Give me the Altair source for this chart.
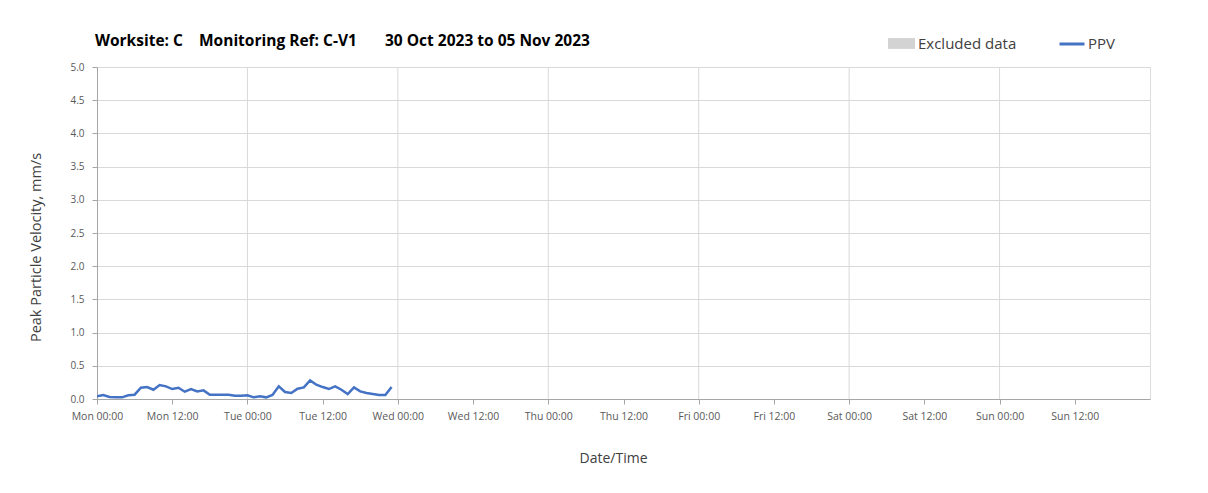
import altair as alt
import pandas as pd

# PPV readings, hourly from Mon 30 Oct 2023 00:00 (mm/s)
ppv = [0.04, 0.06, 0.03, 0.025, 0.025, 0.055, 0.065, 0.17, 0.18, 0.14,
       0.21, 0.19, 0.15, 0.17, 0.11, 0.15, 0.115, 0.13, 0.065, 0.065,
       0.065, 0.065, 0.05, 0.05, 0.055, 0.025, 0.04, 0.025, 0.06, 0.19,
       0.105, 0.09, 0.155, 0.175, 0.28, 0.215, 0.18, 0.15, 0.19, 0.14,
       0.075, 0.175, 0.115, 0.09, 0.075, 0.06, 0.06, 0.18]
times = [t.strftime("%Y-%m-%dT%H:%M:%SZ")
         for t in pd.date_range("2023-10-30 00:00", periods=len(ppv), freq="h")]

day_lines = ["2023-10-31T00:00:00Z", "2023-11-01T00:00:00Z", "2023-11-02T00:00:00Z",
             "2023-11-03T00:00:00Z", "2023-11-04T00:00:00Z", "2023-11-05T00:00:00Z"]
excluded_start = []
excluded_end = []
y_ticks = [0.0, 0.5, 1.0, 1.5, 2.0, 2.5, 3.0, 3.5, 4.0, 4.5, 5.0]

tick_days = [(10, 30), (10, 31), (11, 1), (11, 2), (11, 3), (11, 4), (11, 5)]
x_ticks = []
for m, d in tick_days:
    for h in (0, 12):
        x_ticks.append(alt.DateTime(year=2023, month=m, date=d, hours=h, utc=True))

FONT = "Open Sans"
GRID = "#d9d9d9"
AXIS = "#a6a6a6"
LBL = "#595959"

xscale = alt.Scale(type="utc", nice=False,
                   domain=[alt.DateTime(year=2023, month=10, date=30, utc=True),
                           alt.DateTime(year=2023, month=11, date=6, utc=True)])
yscale = alt.Scale(domain=[0, 5], nice=False)

xaxis = alt.Axis(values=x_ticks, labelExpr="utcFormat(datum.value, '%a %H:%M')",
                 grid=False, title="Date/Time", labelFont=FONT, labelFontSize=10.5,
                 labelColor=LBL, labelPadding=7, tickSize=5, tickColor=AXIS,
                 domainColor=AXIS, titleFont=FONT, titleFontSize=14,
                 titleFontWeight="normal", titleColor="#404040",
                 titleX=516, titleY=59, titleBaseline="middle", labelFlush=False)

df = pd.DataFrame({"time": times, "ppv": ppv, "series": ["PPV"] * len(ppv)})
grid_df = pd.DataFrame({"time": day_lines})
exc_df = pd.DataFrame({"start": excluded_start, "end": excluded_end,
                       "label": pd.Series([], dtype=str)})

vgrid = alt.Chart(grid_df).mark_rule(color=GRID, strokeWidth=1).encode(
    x=alt.X("time:T", scale=xscale, axis=xaxis)
)

excluded = alt.Chart(exc_df).mark_rect().encode(
    x=alt.X("start:T", scale=xscale, axis=xaxis),
    x2="end:T",
    fill=alt.Fill("label:N",
                  scale=alt.Scale(domain=["Excluded data"], range=["#d3d3d3"]),
                  legend=alt.Legend(title=None, orient="none", legendX=791, legendY=-37,
                                    symbolType="M-1,-0.4H1V0.4H-1Z", symbolSize=729,
                                    symbolStrokeWidth=0, labelOffset=3, padding=0,
                                    labelFont=FONT, labelFontSize=15, labelColor="#404040")),
)

line = alt.Chart(df).mark_line(strokeWidth=2.5, clip=True).encode(
    x=alt.X("time:T", scale=xscale, axis=xaxis),
    y=alt.Y("ppv:Q", scale=yscale,
            axis=alt.Axis(values=y_ticks, format=".1f", grid=True, gridColor=GRID,
                          title="Peak Particle Velocity, mm/s", labelFont=FONT,
                          labelFontSize=10, labelColor=LBL, labelPadding=8, tickSize=5,
                          tickColor=AXIS, domainColor=AXIS, titleFont=FONT,
                          titleFontSize=14.5, titleFontWeight="normal", titleColor="#404040",
                          titleAngle=-90, titleX=-61, titleY=180, titleAlign="center",
                          titleBaseline="middle")),
    color=alt.Color("series:N", scale=alt.Scale(domain=["PPV"], range=["#4472C4"]),
                    legend=alt.Legend(title=None, orient="none", legendX=961, legendY=-37,
                                      symbolType="stroke", symbolSize=625,
                                      symbolStrokeWidth=3, labelOffset=2, padding=0,
                                      labelFont=FONT, labelFontSize=15,
                                      labelColor="#404040")),
)

title = "Worksite: C\u00a0\u00a0\u00a0\u00a0Monitoring Ref: C-V1\u00a0\u00a0\u00a0\u00a0\u00a0\u00a0 30 Oct 2023 to 05 Nov 2023"

chart = alt.layer(vgrid, excluded, line).properties(
    width=1053, height=332,
    autosize=alt.AutoSizeParams(type="none"),
    padding={"left": 89, "top": 59, "right": 50, "bottom": 86},
    title=alt.TitleParams(title, anchor="start", frame="group", font=FONT, fontSize=15.5,
                          fontWeight="bold", color="#000000", dx=-2, dy=35, offset=16),
).configure_view(stroke=AXIS, strokeWidth=1.5).configure(background="white")

chart.save("out.html", embed_options={"renderer": "svg", "actions": False})
